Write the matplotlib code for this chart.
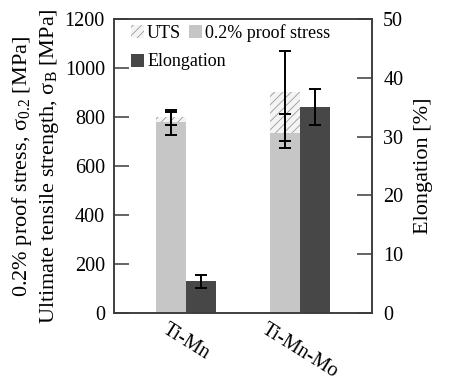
import matplotlib
matplotlib.use('Agg')
import matplotlib.pyplot as plt
import numpy as np

plt.rcParams['font.family'] = ['Liberation Serif', 'DejaVu Serif']
plt.rcParams['mathtext.default'] = 'regular'
plt.rcParams['font.size'] = 14.5
plt.rcParams['hatch.linewidth'] = 0.6

alloys = ['Ti-Mn', 'Ti-Mn-Mo']
uts = [801, 903]
uts_err_lo = [32, 200]
uts_err_hi = [29, 168]
proof = [780, 733]
proof_err_lo = [55, 58]
proof_err_hi = [40, 81]
elong = [5.5, 35.0]
elong_err_lo = [1.25, 3.1]
elong_err_hi = [0.9, 3.1]

x = np.arange(len(alloys))
w = 0.26
light = '#c6c6c6'
dark = '#474747'
spine_c = '#3a3a3a'

fig = plt.figure(figsize=(4.5, 3.84), dpi=100)
ax = fig.add_axes([0.2533, 0.1849, 0.5734, 0.7656])
ax2 = ax.twinx()

xs = x - w / 2
b_proof = ax.bar(xs, proof, w, color=light, linewidth=0, zorder=2)
b_uts = ax.bar(xs, np.array(uts) - np.array(proof), w, bottom=proof,
               color='#f4f4f4', edgecolor='#9a9a9a', linewidth=0,
               hatch='////', zorder=2)
ax.errorbar(xs, uts, yerr=[uts_err_lo, uts_err_hi], fmt='none',
            ecolor='black', elinewidth=1.4, capsize=4, capthick=1.4, zorder=4)
ax.errorbar(xs, proof, yerr=[proof_err_lo, proof_err_hi], fmt='none',
            ecolor='black', elinewidth=1.4, capsize=4, capthick=1.4, zorder=4)

b_el = ax2.bar(x + w / 2, elong, w, color=dark, linewidth=0, zorder=2)
ax2.errorbar(x + w / 2, elong, yerr=[elong_err_lo, elong_err_hi], fmt='none',
             ecolor='black', elinewidth=1.4, capsize=4, capthick=1.4, zorder=4)

ax.set_xlim(-0.63, 1.63)
ax.set_ylim(0, 1200)
ax2.set_ylim(0, 50)
ax.set_yticks(range(0, 1201, 200))
ax2.set_yticks(range(0, 51, 10))

ax.set_xticks(x)
ax.set_xticklabels(alloys, rotation=-32, ha='center', va='top')
ax.tick_params(axis='x', length=0, pad=5)
ax.tick_params(axis='y', direction='in', length=10.5, width=1.1,
               color=spine_c, pad=6.5)
ax2.tick_params(axis='y', direction='in', length=10.5, width=1.1,
                color=spine_c, pad=8)

for a in (ax, ax2):
    for s in a.spines.values():
        s.set_color(spine_c)
        s.set_linewidth(1.1)

ax.set_ylabel('0.2% proof stress, σ$_{0.2}$ [MPa]\n'
              'Ultimate tensile strength, σ$_{B}$ [MPa]',
              fontsize=16, linespacing=1.25, labelpad=3)
ax2.set_ylabel('Elongation [%]', fontsize=16, labelpad=8)

# legend: two rows, first row has two entries
leg_kw = dict(frameon=False, fontsize=13, handlelength=0.72,
              handleheight=0.72, handletextpad=0.17, columnspacing=0.45,
              borderpad=0, borderaxespad=0, loc='center left')
leg1 = ax2.legend([b_uts, b_proof], ['UTS', '0.2% proof stress'], ncol=2,
                  bbox_to_anchor=(0.066, 0.952), **leg_kw)
ax2.add_artist(leg1)
ax2.legend([b_el], ['Elongation'], bbox_to_anchor=(0.066, 0.854), **leg_kw)

fig.savefig('out.png', dpi=100)
